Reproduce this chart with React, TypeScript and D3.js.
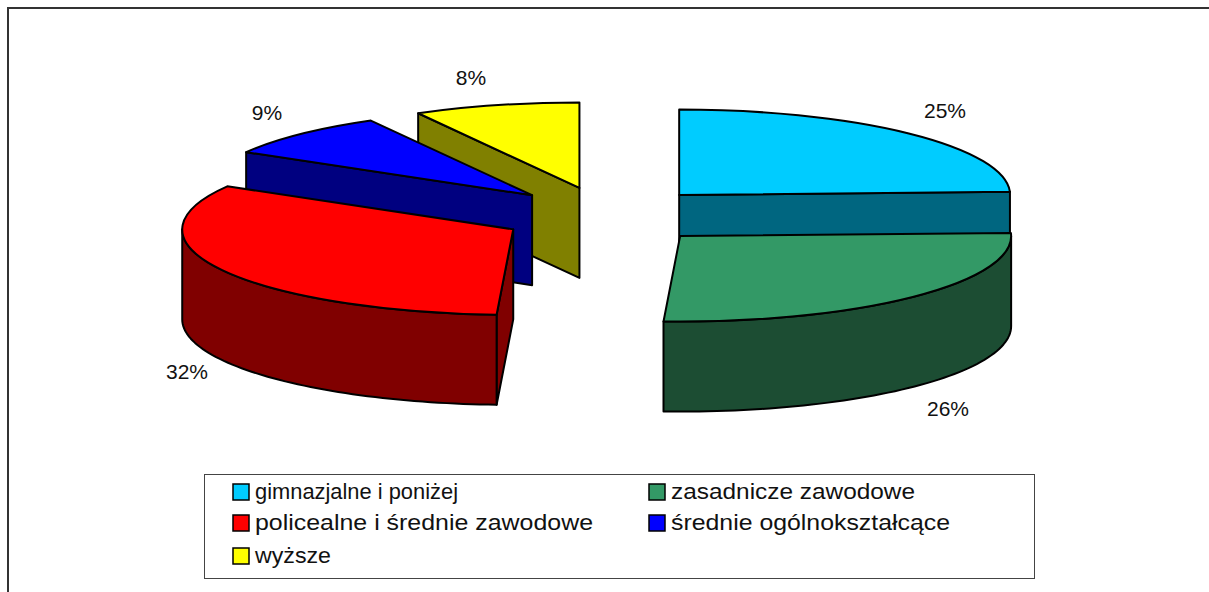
import React from "react";
import * as d3 from "d3";

const categories = [
  "gimnazjalne i poniżej",
  "zasadnicze zawodowe",
  "policealne i średnie zawodowe",
  "średnie ogólnokształcące",
  "wyższe",
];
const shares = [24.4, 26.4, 32.6, 8.5, 8.1];
const valueLabels = ["25%", "26%", "32%", "9%", "8%"];
const topColors = ["#00CCFF", "#339966", "#FF0000", "#0000FF", "#FFFF00"];
const wallColors = ["#006680", "#1C4D33", "#800000", "#000080", "#808000"];

const W = 1209, H = 592;
const CX = 606, CY = 215.7, RX = 331, RY = 85.5, DEPTH = 90;
const EX = 105.5, EY = 28.7;
const labelPos: [number, number][] = [[945, 118], [948, 416], [187, 379], [267, 120], [471, 85]];
const legendPos: [number, number][] = [[233, 492], [649, 492], [233, 523], [649, 523], [233, 556]];
const legendW = [203, 244, 338, 279, 76];
const FONT = "'Liberation Sans', Arial, sans-serif";

const pie = d3.pie<number>().sort(null).value((d) => d);
const arcs = pie(shares);
const arcGen = d3.arc<d3.PieArcDatum<number>>().innerRadius(0).outerRadius(RX);

export default function App() {
  const slices = arcs.map((a, i) => {
    const mid = (a.startAngle + a.endAngle) / 2;
    const ax = CX + EX * Math.sin(mid);
    const ay = CY - EY * Math.cos(mid);
    const pt = (t: number): [number, number] => [ax + RX * Math.sin(t), ay - RY * Math.cos(t)];
    return { a, i, ax, ay, pt };
  });
  const line = d3.line();
  // Painter's order: back slices first
  const order = [4, 3, 2, 0, 1];
  return (
    <svg width={W} height={H} style={{ position: "absolute", left: 0, top: 0, background: "#fff" }}>
      <path d={`M8,${H} V8 H${W}`} fill="none" stroke="#333" strokeWidth={2} />
      {order.map((idx) => {
        const { a, ax, ay, pt, i } = slices[idx];
        const lo = Math.max(a.startAngle, Math.PI / 2);
        const hi = Math.min(a.endAngle, (3 * Math.PI) / 2);
        const wall = lo < hi
          ? d3.area<number>()
              .x((t) => pt(t)[0])
              .y0((t) => pt(t)[1])
              .y1((t) => pt(t)[1] + DEPTH)(d3.range(0, 61).map((k) => lo + ((hi - lo) * k) / 60))
          : null;
        const facePts = (t: number): [number, number][] => {
          const p = pt(t);
          return [[ax, ay], p, [p[0], p[1] + DEPTH], [ax, ay + DEPTH]];
        };
        const eps = 1e-6;
        const startVisible = Math.sin(a.startAngle) < -eps;
        const endVisible = Math.sin(a.endAngle) > eps;
        return (
          <g key={i} stroke="#000" strokeWidth={2} strokeLinejoin="round">
            {startVisible && <path d={line(facePts(a.startAngle)) + "Z"} fill={wallColors[i]} />}
            {endVisible && <path d={line(facePts(a.endAngle)) + "Z"} fill={wallColors[i]} />}
            {wall && <path d={wall} fill={wallColors[i]} />}
            <path
              d={arcGen(a) as string}
              transform={`translate(${ax},${ay}) scale(1,${RY / RX})`}
              fill={topColors[i]}
              style={{ vectorEffect: "non-scaling-stroke" }}
            />
          </g>
        );
      })}
      {valueLabels.map((t, i) => (
        <text key={t} x={labelPos[i][0]} y={labelPos[i][1]} textAnchor="middle" fontFamily={FONT} fontSize={21} fill="#111">
          {t}
        </text>
      ))}
      <rect x={204.5} y={474.5} width={830} height={104} fill="#fff" stroke="#444" strokeWidth={1} />
      {categories.map((c, i) => (
        <g key={c}>
          <rect x={legendPos[i][0]} y={legendPos[i][1] - 8} width={16} height={16} fill={topColors[i]} stroke="#000" strokeWidth={1.5} />
          <text x={legendPos[i][0] + 22} y={legendPos[i][1] + 7} fontFamily={FONT} fontSize={22.5} fill="#111"
            textLength={legendW[i]} lengthAdjust="spacingAndGlyphs">
            {c}
          </text>
        </g>
      ))}
    </svg>
  );
}
